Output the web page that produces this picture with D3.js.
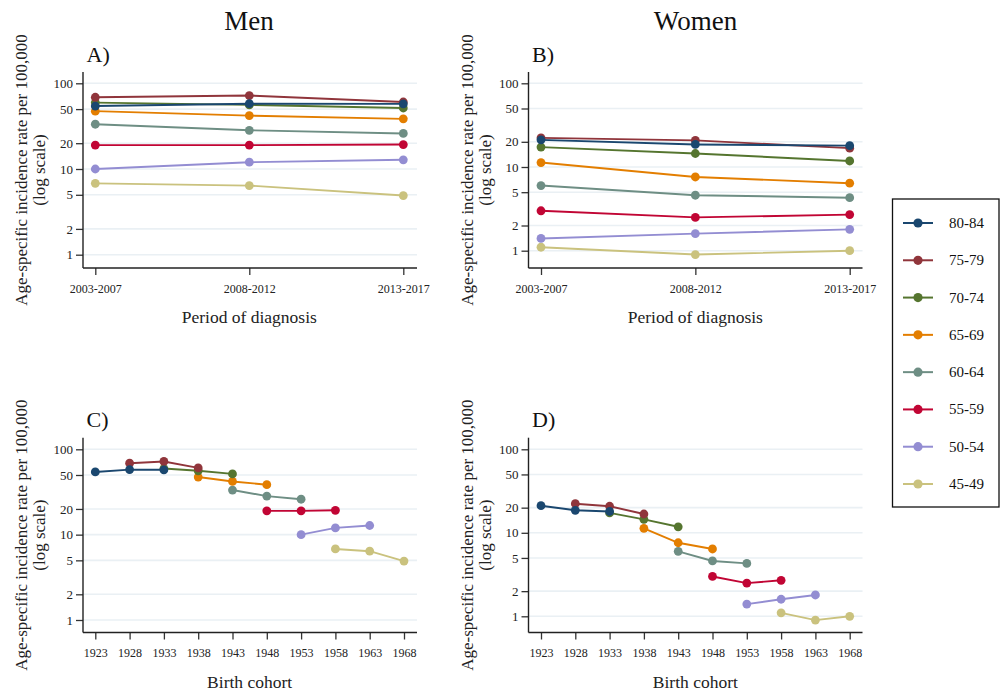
<!DOCTYPE html>
<html>
<head>
<meta charset="utf-8">
<script src="https://cdn.jsdelivr.net/npm/d3@7"></script>
<style>
  html, body { margin: 0; padding: 0; background: #fff; }
  svg { display: block; font-family: "Liberation Serif", "DejaVu Serif", serif; }
</style>
</head>
<body>
<svg id="chart" width="1002" height="694"></svg>
<script>
// ---- data ----
const ageGroups = ["80-84", "75-79", "70-74", "65-69", "60-64", "55-59", "50-54", "45-49"];
const periods = ["2003-2007", "2008-2012", "2013-2017"];
const cohortTicks = [1923, 1928, 1933, 1938, 1943, 1948, 1953, 1958, 1963, 1968];
const yTicks = [1, 2, 5, 10, 20, 50, 100];
// rows follow ageGroups, columns follow periods
const menRates = [
  [54.3, 57.8, 57.5],
  [68.7, 72.0, 60.5],
  [59.5, 56.0, 51.5],
  [47.3, 42.0, 38.5],
  [33.3, 28.3, 26.0],
  [19.0, 19.0, 19.3],
  [10.0, 12.0, 12.8],
  [6.8, 6.4, 4.9]
];
const womenRates = [
  [21.1, 18.6, 18.0],
  [22.3, 20.8, 16.8],
  [17.3, 14.5, 11.8],
  [11.3, 7.6, 6.4],
  [6.0, 4.6, 4.3],
  [3.0, 2.5, 2.7],
  [1.4, 1.6, 1.8],
  [1.1, 0.9, 1.0]
];
// birth cohort of each age group at the first period
const cohortStart = [1923, 1928, 1933, 1938, 1943, 1948, 1953, 1958];
const periodStep = 5;
const colors = ["#1a476f", "#90353b", "#55752f", "#e37e00", "#6e8e84", "#c10534", "#938dd2", "#cac27e"];

// ---- layout ----
const svg = d3.select("#chart");
const FONT = "'Liberation Serif', 'DejaVu Serif', serif";

const panels = [
  {label: "A)", rates: menRates, mode: "period", axisX: 83, right: 417, xr: [95.3, 403.3], top: 72, bottom: 268, y1: 254.7, y100: 83.3, xTitle: "Period of diagnosis"},
  {label: "B)", rates: womenRates, mode: "period", axisX: 528.5, right: 862.5, xr: [541, 849.7], top: 72, bottom: 268, y1: 250.7, y100: 83.3, xTitle: "Period of diagnosis"},
  {label: "C)", rates: menRates, mode: "cohort", axisX: 83, right: 417, xr: [95.3, 404], top: 437.7, bottom: 632.5, y1: 620, y100: 449.3, xTitle: "Birth cohort"},
  {label: "D)", rates: womenRates, mode: "cohort", axisX: 528.5, right: 862.5, xr: [541, 849.7], top: 437.7, bottom: 632.5, y1: 616.3, y100: 449.3, xTitle: "Birth cohort"}
];

svg.append("text").attr("x", 249).attr("y", 30).attr("text-anchor", "middle")
  .attr("font-size", 27).attr("fill", "#111").text("Men");
svg.append("text").attr("x", 695.5).attr("y", 30).attr("text-anchor", "middle")
  .attr("font-size", 27).attr("fill", "#111").text("Women");

panels.forEach(p => {
  const g = svg.append("g");
  const y = d3.scaleLog().domain([1, 100]).range([p.y1, p.y100]);
  let x, xVal, xTickVals, xFmt;
  if (p.mode === "period") {
    x = d3.scalePoint().domain(periods).range(p.xr);
    xVal = (ai, pi) => x(periods[pi]);
    xTickVals = periods;
    xFmt = d => d;
  } else {
    x = d3.scaleLinear().domain([cohortTicks[0], cohortTicks[cohortTicks.length - 1]]).range(p.xr);
    xVal = (ai, pi) => x(cohortStart[ai] + periodStep * pi);
    xTickVals = cohortTicks;
    xFmt = d => String(d);
  }

  // gridlines
  g.selectAll(".grid").data(yTicks).join("line")
    .attr("x1", p.axisX).attr("x2", p.right)
    .attr("y1", d => y(d)).attr("y2", d => y(d))
    .attr("stroke", "#eaf0f4").attr("stroke-width", 1.6);

  // y axis
  const yAxis = d3.axisLeft(y).tickValues(yTicks).tickFormat(d3.format("d")).tickSize(7).tickPadding(3);
  const ya = g.append("g").attr("transform", `translate(${p.axisX},0)`).call(yAxis);
  ya.attr("font-family", FONT);
  ya.select(".domain").remove();
  ya.selectAll(".tick line").attr("stroke", "#333").attr("stroke-width", 1.3);
  ya.selectAll(".tick text").attr("font-size", 13).attr("fill", "#222");
  g.append("line").attr("x1", p.axisX).attr("x2", p.axisX).attr("y1", p.top).attr("y2", p.bottom)
    .attr("stroke", "#222").attr("stroke-width", 1.4);

  // x axis
  const xAxis = (p.mode === "period" ? d3.axisBottom(x) : d3.axisBottom(x).tickValues(xTickVals))
    .tickFormat(xFmt).tickSize(7).tickPadding(9);
  const xa = g.append("g").attr("transform", `translate(0,${p.bottom})`).call(xAxis);
  xa.attr("font-family", FONT);
  xa.select(".domain").remove();
  xa.selectAll(".tick line").attr("stroke", "#333").attr("stroke-width", 1.3);
  xa.selectAll(".tick text").attr("font-size", 12).attr("fill", "#222");
  g.append("line").attr("x1", p.axisX).attr("x2", p.right).attr("y1", p.bottom).attr("y2", p.bottom)
    .attr("stroke", "#222").attr("stroke-width", 1.4);

  // panel label
  g.append("text").attr("x", p.axisX + 3.5).attr("y", p.top - 10.5)
    .attr("font-size", 22).attr("fill", "#111").text(p.label);

  // axis titles
  const cy = (p.top + p.bottom) / 2;
  const yt = g.append("text").attr("text-anchor", "middle").attr("font-size", 17).attr("fill", "#222")
    .attr("transform", `translate(${p.axisX - 56},${cy}) rotate(-90)`);
  yt.append("tspan").attr("x", 0).attr("dy", 0).text("Age-specific incidence rate per 100,000");
  yt.append("tspan").attr("x", 0).attr("dy", 18).text("(log scale)");
  g.append("text").attr("x", (p.xr[0] + p.xr[1]) / 2).attr("y", p.bottom + 55)
    .attr("text-anchor", "middle").attr("font-size", 17.5).attr("fill", "#222").text(p.xTitle);

  // series (draw youngest first so older sit on top)
  const line = d3.line().x(d => d[0]).y(d => d[1]);
  for (let ai = ageGroups.length - 1; ai >= 0; ai--) {
    const pts = p.rates[ai].map((v, pi) => [xVal(ai, pi), y(v)]);
    g.append("path").attr("d", line(pts)).attr("fill", "none")
      .attr("stroke", colors[ai]).attr("stroke-width", 1.9);
    g.selectAll(null).data(pts).join("circle")
      .attr("cx", d => d[0]).attr("cy", d => d[1]).attr("r", 4.4).attr("fill", colors[ai]);
  }
});

// legend
const lg = svg.append("g");
lg.append("rect").attr("x", 892.5).attr("y", 199).attr("width", 106.5).attr("height", 308)
  .attr("fill", "#fff").attr("stroke", "#111").attr("stroke-width", 1.3);
const ly = d3.scalePoint().domain(ageGroups).range([223, 484]);
ageGroups.forEach((a, i) => {
  lg.append("line").attr("x1", 903).attr("x2", 933).attr("y1", ly(a)).attr("y2", ly(a))
    .attr("stroke", colors[i]).attr("stroke-width", 2);
  lg.append("circle").attr("cx", 918).attr("cy", ly(a)).attr("r", 4.6).attr("fill", colors[i]);
  lg.append("text").attr("x", 949).attr("y", ly(a) + 5).attr("font-size", 15).attr("fill", "#111").text(a);
});
</script>
</body>
</html>
